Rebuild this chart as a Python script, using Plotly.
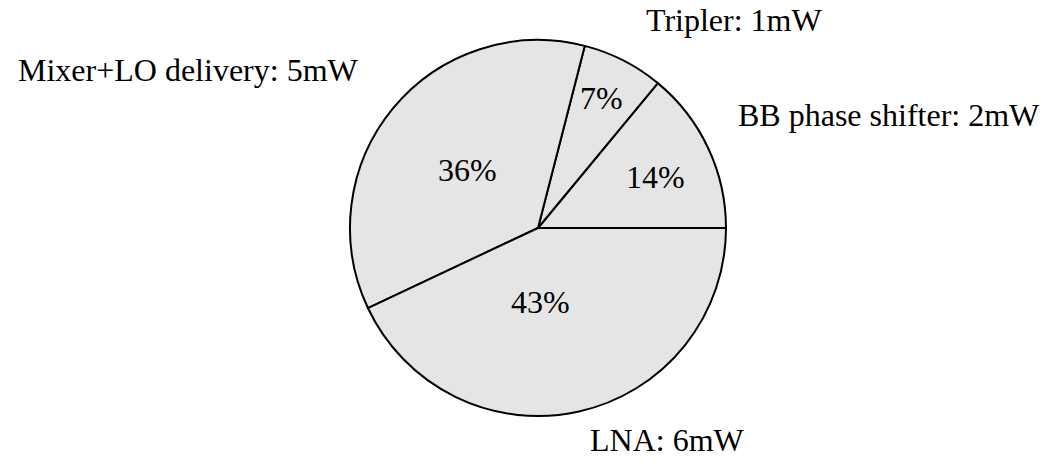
import plotly.graph_objects as go

# power breakdown
blocks = ['BB phase shifter', 'Tripler', 'Mixer+LO delivery', 'LNA']
power_mw = [2, 1, 5, 6]
percent = [14, 7, 36, 43]

W, H = 1058, 464
cx, cy, r = 538, 228, 188   # pie centre / radius in pixels

FONT = 'Liberation Serif'
FSIZE = 32

total = sum(percent)

fig = go.Figure()
fig.add_trace(go.Pie(
    labels=blocks,
    values=percent,
    sort=False,
    direction='counterclockwise',
    # first slice should start at 3 o'clock and run counterclockwise
    rotation=90 - percent[0] / total * 360,
    textinfo='none',
    hoverinfo='label+value',
    marker=dict(colors=['#e5e5e5'] * len(blocks),
                line=dict(color='black', width=2)),
    domain=dict(x=[(cx - r) / W, (cx + r) / W],
                y=[(H - cy - r) / H, (H - cy + r) / H]),
    showlegend=False,
))

# label placement (pixels from top-left)
pct_pos = [(655, 179), (601, 100), (467, 172), (540, 304)]
name_pos = [(889, 117), (734, 22), (188, 72), (667, 442)]

def label(text, px, py):
    return dict(x=px / W, y=1 - py / H, xref='paper', yref='paper',
                text=text, showarrow=False, yshift=2,
                xanchor='center', yanchor='middle',
                font=dict(family=FONT, size=FSIZE, color='black'))

annotations = [label(f'{p}%', *pos) for p, pos in zip(percent, pct_pos)]
annotations += [label(f'{n}: {mw}mW', *pos)
                for n, mw, pos in zip(blocks, power_mw, name_pos)]

fig.update_layout(
    width=W, height=H,
    margin=dict(l=0, r=0, t=0, b=0),
    paper_bgcolor='white',
    plot_bgcolor='white',
    annotations=annotations,
)
fig.write_html('out.html', config={'displayModeBar': False},
               post_script="document.body.style.margin='0';")
